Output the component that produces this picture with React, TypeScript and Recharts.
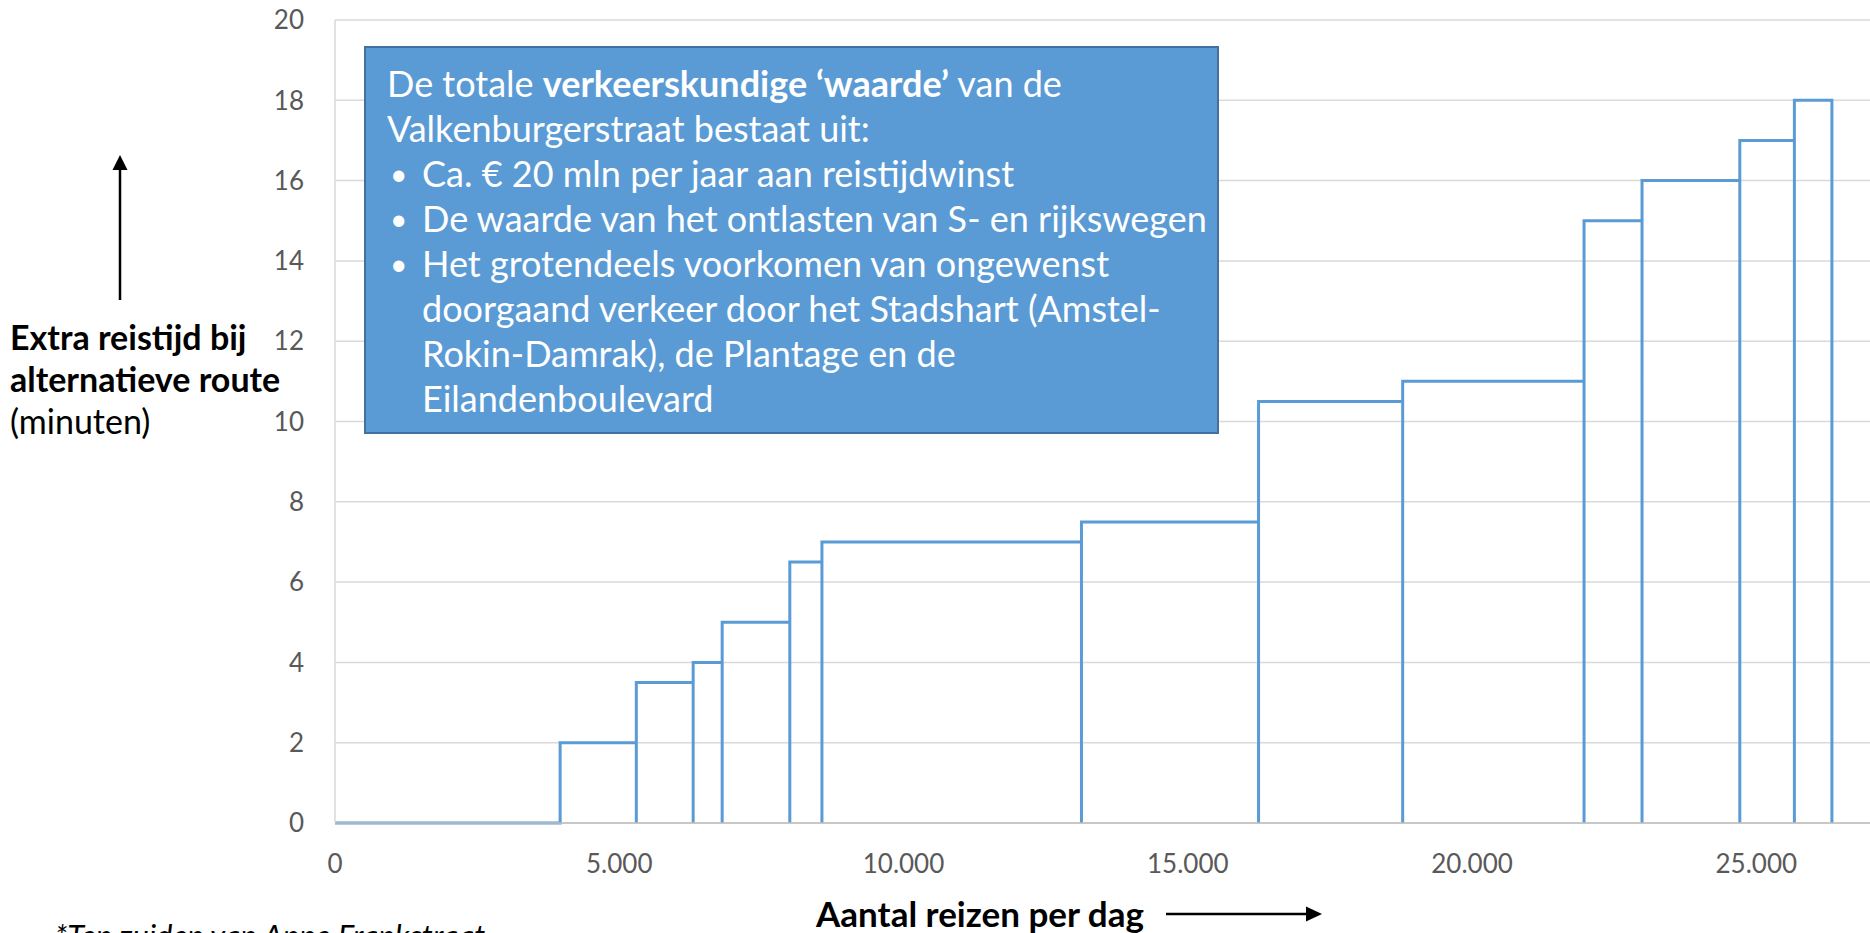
import React from "react";
import { LineChart, Line, XAxis, YAxis, CartesianGrid } from "recharts";

// Trip bands (trips per day) and the extra travel time for each band
const bandEdges = [0, 3960, 5300, 6300, 6810, 8000, 8565, 13130, 16245, 18780, 21970, 22990, 24710, 25670, 26330];
const extraMinutes = [0, 2, 3.5, 4, 5, 6.5, 7, 7.5, 10.5, 11, 15, 16, 17, 18];

const xTicks = [0, 5000, 10000, 15000, 20000, 25000];
const yTicks = [0, 2, 4, 6, 8, 10, 12, 14, 16, 18, 20];

// every band is drawn as an open rectangle: up, across, down
const steps = extraMinutes.flatMap((h, i) => [
  { x: bandEdges[i], y: 0 },
  { x: bandEdges[i], y: h },
  { x: bandEdges[i + 1], y: h },
  { x: bandEdges[i + 1], y: 0 },
]);

function formatThousands(value: number): string {
  return String(value).replace(/\B(?=(\d{3})+(?!\d))/g, ".");
}

const FONT = "Lato, 'Open Sans', sans-serif";
const TICK = { fill: "#595959", fontSize: 26, fontFamily: FONT };

const boxLine: React.CSSProperties = { height: 45, lineHeight: "45px", whiteSpace: "nowrap" };

function Bullet({ children, dot }: { children: React.ReactNode; dot?: boolean }) {
  return (
    <div style={{ ...boxLine, display: "flex" }}>
      <span style={{ width: 35, paddingLeft: 3, boxSizing: "border-box", flex: "none", fontSize: 30 }}>
        {dot ? "•" : ""}
      </span>
      <span>{children}</span>
    </div>
  );
}

export default function App() {
  return (
    <div
      style={{
        position: "fixed",
        left: 0,
        top: 0,
        width: 1870,
        height: 933,
        overflow: "hidden",
        background: "#fff",
        fontFamily: FONT,
      }}
    >
      <LineChart width={1870} height={933} data={steps} margin={{ top: 20, right: 0, left: 0, bottom: 0 }}>
        <CartesianGrid vertical={false} stroke="#D9D9D9" strokeWidth={1.5} />
        <XAxis
          type="number"
          dataKey="x"
          domain={[0, 27000]}
          ticks={xTicks}
          allowDataOverflow
          tickFormatter={formatThousands}
          tick={TICK}
          tickLine={false}
          tickSize={0}
          tickMargin={32}
          axisLine={{ stroke: "#BFBFBF", strokeWidth: 1.5 }}
          height={110}
        />
        <YAxis
          type="number"
          domain={[0, 20]}
          ticks={yTicks}
          tick={TICK}
          tickLine={false}
          tickSize={0}
          tickMargin={31}
          axisLine={{ stroke: "#D9D9D9", strokeWidth: 1.5 }}
          width={335}
        />
        <Line
          type="linear"
          dataKey="y"
          stroke="#5B9BD5"
          strokeWidth={3}
          dot={false}
          activeDot={false}
          isAnimationActive={false}
        />
      </LineChart>

      {/* annotation box */}
      <div
        style={{
          position: "absolute",
          left: 364,
          top: 46,
          width: 855,
          height: 388,
          boxSizing: "border-box",
          background: "#5B9BD5",
          border: "2px solid #41719C",
          color: "#fff",
          fontSize: 36,
          padding: "13px 0 0 21px",
        }}
      >
        <div style={boxLine}>
          De totale <b>verkeerskundige ‘waarde’</b> van de
        </div>
        <div style={boxLine}>Valkenburgerstraat bestaat uit:</div>
        <Bullet dot>Ca. € 20 mln per jaar aan reistijdwinst</Bullet>
        <Bullet dot>De waarde van het ontlasten van S- en rijkswegen</Bullet>
        <Bullet dot>Het grotendeels voorkomen van ongewenst</Bullet>
        <Bullet>doorgaand verkeer door het Stadshart (Amstel-</Bullet>
        <Bullet>Rokin-Damrak), de Plantage en de</Bullet>
        <Bullet>Eilandenboulevard</Bullet>
      </div>

      {/* y axis title */}
      <div style={{ position: "absolute", left: 10, top: 316, fontSize: 34, lineHeight: "42px", color: "#000", whiteSpace: "nowrap" }}>
        <div style={{ fontWeight: 700 }}>Extra reistijd bij</div>
        <div style={{ fontWeight: 700 }}>alternatieve route</div>
        <div>(minuten)</div>
      </div>

      {/* x axis title */}
      <div
        style={{
          position: "absolute",
          left: 780,
          top: 895,
          width: 400,
          textAlign: "center",
          fontSize: 35,
          lineHeight: "36px",
          fontWeight: 700,
          color: "#000",
          whiteSpace: "nowrap",
        }}
      >
        Aantal reizen per dag
      </div>

      <div
        style={{
          position: "absolute",
          left: 55,
          top: 918,
          fontSize: 31,
          lineHeight: "34px",
          fontStyle: "italic",
          color: "#000",
          whiteSpace: "nowrap",
        }}
      >
        *Ten zuiden van Anne Frankstraat
      </div>

      <svg width={1870} height={933} style={{ position: "absolute", left: 0, top: 0, pointerEvents: "none" }}>
        <line x1={120} y1={300} x2={120} y2={166} stroke="#000" strokeWidth={2.5} />
        <polygon points="120,155 112.5,170 127.5,170" fill="#000" />
        <line x1={1166} y1={914} x2={1308} y2={914} stroke="#000" strokeWidth={2.5} />
        <polygon points="1322,914 1306,906.5 1306,921.5" fill="#000" />
      </svg>
    </div>
  );
}
